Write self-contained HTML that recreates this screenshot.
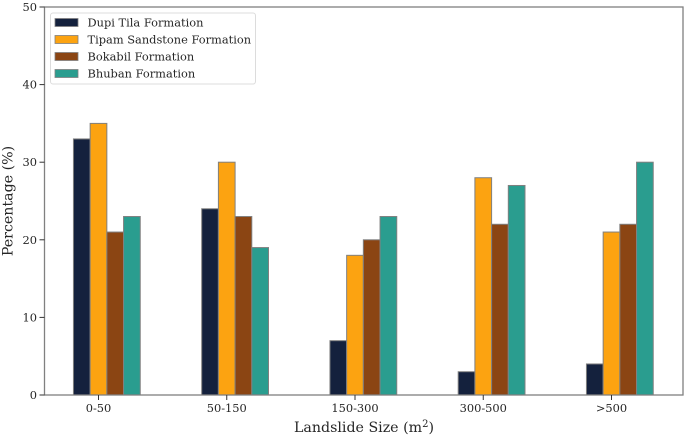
<!DOCTYPE html>
<html>
<head>
<meta charset="utf-8">
<style>
html,body{margin:0;padding:0;background:#fff;width:685px;height:437px;overflow:hidden}
svg{display:block}
text{font-family:"DejaVu Serif","Liberation Serif",serif;fill:#262626}
</style>
</head>
<body>
<svg id="chart" width="685" height="437" viewBox="0 0 685 437" xmlns="http://www.w3.org/2000/svg"></svg>
<script>
const categories = ['0-50', '50-150', '150-300', '300-500', '>500'];
const seriesNames = ['Dupi Tila Formation', 'Tipam Sandstone Formation', 'Bokabil Formation', 'Bhuban Formation'];
const dupiTila = [33, 24, 7, 3, 4];
const tipamSandstone = [35, 30, 18, 28, 21];
const bokabil = [21, 23, 20, 22, 22];
const bhuban = [23, 19, 23, 27, 30];
const yTicks = [0, 10, 20, 30, 40, 50];
const seriesColors = ['#14213d', '#fca311', '#8b4513', '#2a9d8f'];

const allSeries = [dupiTila, tipamSandstone, bokabil, bhuban];
const svg = document.getElementById('chart');
const NS = 'http://www.w3.org/2000/svg';
const plot = { left: 44.5, right: 683, top: 7, bottom: 395 };
const yMax = 50;
const firstCenter = 98.5, step = 128.25, barWidth = 16.7;

function xScale(i) { return firstCenter + i * step; }
function yScale(v) { return plot.bottom - (v / yMax) * (plot.bottom - plot.top); }
function make(tag, attrs, parent) {
  const el = document.createElementNS(NS, tag);
  for (const k in attrs) el.setAttribute(k, attrs[k]);
  (parent || svg).appendChild(el);
  return el;
}

allSeries.forEach(function (values, s) {
  values.forEach(function (v, i) {
    const bar = make('rect', {
      x: xScale(i) + (s - 1.5) * barWidth,
      y: yScale(v),
      width: barWidth,
      height: yScale(0) - yScale(v),
      fill: seriesColors[s],
      stroke: '#808080',
      'stroke-width': 1
    });
    
    
  });
});

const frame = make('rect', {
  x: plot.left, y: plot.top,
  width: plot.right - plot.left, height: plot.bottom - plot.top,
  fill: 'none', stroke: '#808080', 'stroke-width': 1.3
});



yTicks.forEach(function (t) {
  const y = yScale(t);
  const tick = make('line', { x1: plot.left - 5, x2: plot.left, y1: y, y2: y, stroke: '#333', 'stroke-width': 1 });
  
  
  const label = make('text', { x: plot.left - 7.5, y: y + 4, 'text-anchor': 'end', 'font-size': 11.4 });
  label.textContent = t;
  
  
});

categories.forEach(function (c, i) {
  const x = xScale(i);
  const tick = make('line', { x1: x, x2: x, y1: plot.bottom, y2: plot.bottom + 5, stroke: '#333', 'stroke-width': 1 });
  
  
  const label = make('text', { x: x, y: 412, 'text-anchor': 'middle', 'font-size': 11.4 });
  label.textContent = c;
  
  
});

const xTitle = make('text', { x: 364, y: 432, 'text-anchor': 'middle', 'font-size': 14.2 });
xTitle.textContent = 'Landslide Size (m';
const sup = make('tspan', { dy: -5, 'font-size': 10 }, xTitle);
sup.textContent = '2';
const close = make('tspan', { dy: 5 }, xTitle);
close.textContent = ')';



const yTitle = make('text', { transform: 'translate(12.5,201) rotate(-90)', 'text-anchor': 'middle', 'font-size': 14.2 });
yTitle.textContent = 'Percentage (%)';



const legendBox = make('rect', { x: 50.5, y: 13, width: 205, height: 71, rx: 2.5, fill: '#fff', 'fill-opacity': 0.8, stroke: '#dcdcdc', 'stroke-width': 1 });



seriesNames.forEach(function (name, s) {
  const y = 22.5 + s * 17;
  const swatch = make('rect', { x: 55, y: y - 4, width: 23, height: 8, fill: seriesColors[s], stroke: '#808080', 'stroke-width': 0.8 });
  
  
  const label = make('text', { x: 87.5, y: y + 3.8, 'font-size': 11.4 });
  label.textContent = name;
  
  
});
</script>
</body>
</html>
